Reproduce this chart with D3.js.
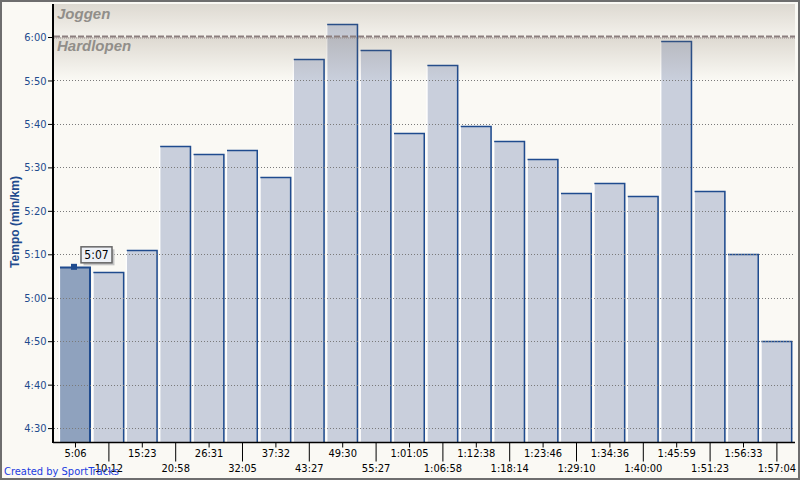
<!DOCTYPE html>
<html><head><meta charset="utf-8">
<script src="https://cdn.jsdelivr.net/npm/d3@7"></script>
<style>html,body{margin:0;padding:0;background:#faf9f4;} svg{display:block;}</style>
</head><body><svg id="c" width="800" height="480"></svg>
<script>
// ---- data ----
const splitLabels = ["5:06","10:12","15:23","20:58","26:31","32:05","37:32","43:27","49:30","55:27","1:01:05","1:06:58","1:12:38","1:18:14","1:23:46","1:29:10","1:34:36","1:40:00","1:45:59","1:51:23","1:56:33","1:57:04"];
const paceSeconds = [307,306,311,335,333,334,327.7,355,363,357,338,353.5,339.5,336,332,324,326.5,323.5,359,324.5,310,290];
const yTickValues = [270,280,290,300,310,320,330,340,350,360];
const zoneNames = ["Joggen","Hardlopen"];
const zoneBoundary = 360;
const selectedIndex = 0;
const tooltipText = "5:07";
const yTitle = "Tempo (min/km)";
const credit = "Created by SportTracks";

// ---- layout ----
const W = 800, H = 480;
const plotL = 54, plotR = 795, plotT = 4, plotB = 442;
const fontUI = "'DejaVu Sans Condensed','DejaVu Sans',sans-serif";
const blue = "#1f4b8e";

const svg = d3.select("#c");
svg.append("rect").attr("width", W).attr("height", H).attr("fill", "#faf9f4");

const x = d3.scaleBand().domain(d3.range(paceSeconds.length)).range([60, 792.4]).paddingInner(0.072).paddingOuter(0);
const y = d3.scaleLinear().domain([266.8, 367.6]).range([plotB, plotT]);
const fmt = s => Math.floor(s / 60) + ":" + String(Math.round(s % 60)).padStart(2, "0");

// defs gradients
const defs = svg.append("defs");
function grad(id, a0, a1) {
  const g = defs.append("linearGradient").attr("id", id).attr("x1", 0).attr("y1", 0).attr("x2", 0).attr("y2", 1);
  g.append("stop").attr("offset", "0%").attr("stop-color", "rgb(120,103,84)").attr("stop-opacity", a0);
  g.append("stop").attr("offset", "100%").attr("stop-color", "rgb(120,103,84)").attr("stop-opacity", a1);
}
grad("gJog", 0.22, 0.05);
grad("gRun", 0.22, 0.0);

// bars
const bars = svg.append("g");
paceSeconds.forEach((v, i) => {
  const x0 = x(i), w = x.bandwidth(), top = Math.round(y(v));
  const sel = i === selectedIndex;
  bars.append("rect").attr("x", x0).attr("y", top).attr("width", w).attr("height", plotB - top)
    .attr("fill", sel ? "#8fa2be" : "#c9cfdc");
  bars.append("line").attr("x1", x0 - 0.5).attr("x2", x0 - 0.5).attr("y1", top + 1).attr("y2", plotB)
    .attr("stroke", "#ffffff").attr("stroke-width", 1.2);
  bars.append("path").attr("d", `M${x0},${top + 0.5}H${x0 + w - (sel ? 1 : 0.75)}V${plotB}`)
    .attr("fill", "none").attr("stroke", blue).attr("stroke-width", sel ? 2 : 1.5);
});

// gridlines
const grid = svg.append("g");
yTickValues.filter(t => t !== zoneBoundary).forEach(t => {
  const yy = Math.round(y(t)) + 0.5;
  grid.append("line").attr("x1", plotL).attr("x2", plotR).attr("y1", yy).attr("y2", yy)
    .attr("stroke", "#7a7a7a").attr("stroke-width", 1).attr("stroke-dasharray", "1,2");
});

// zone bands
const yb = Math.round(y(zoneBoundary));
svg.append("rect").attr("x", plotL).attr("y", plotT).attr("width", plotR - plotL).attr("height", yb - plotT).attr("fill", "url(#gJog)");
svg.append("rect").attr("x", plotL).attr("y", yb).attr("width", plotR - plotL).attr("height", 43).attr("fill", "url(#gRun)");
svg.append("line").attr("x1", plotL).attr("x2", plotR).attr("y1", yb - 0.5).attr("y2", yb - 0.5)
  .attr("stroke", "#8b7e7e").attr("stroke-width", 2).attr("stroke-dasharray", "6,2");
svg.append("line").attr("x1", plotL).attr("x2", plotR).attr("y1", yb + 1).attr("y2", yb + 1)
  .attr("stroke", "#9a8f8f").attr("stroke-width", 1).attr("stroke-dasharray", "1,1");
svg.append("text").attr("x", 57).attr("y", 18.5).text(zoneNames[0])
  .attr("font-family", "'Liberation Sans',Arial,sans-serif").attr("font-size", 15).attr("font-weight", "bold")
  .attr("font-style", "italic").attr("fill", "#918e8a");
svg.append("text").attr("x", 57).attr("y", 51).text(zoneNames[1])
  .attr("font-family", "'Liberation Sans',Arial,sans-serif").attr("font-size", 15).attr("font-weight", "bold")
  .attr("font-style", "italic").attr("fill", "#918e8a");

// y axis
const ya = svg.append("g").attr("transform", `translate(${plotL - 1},0)`)
  .call(d3.axisLeft(y).tickValues(yTickValues).tickFormat(fmt).tickSize(5).tickPadding(1.5).tickSizeOuter(0));
ya.select(".domain").remove();
ya.selectAll(".tick line").attr("stroke", "#000");
ya.selectAll(".tick text").attr("font-family", fontUI).attr("font-size", 11).attr("fill", blue);
svg.append("line").attr("x1", plotL - 1).attr("x2", plotL - 1).attr("y1", plotT).attr("y2", plotB + 1)
  .attr("stroke", "#000").attr("stroke-width", 2);

// x axis
const xa = svg.append("g").attr("transform", `translate(0,${plotB + 0.5})`)
  .call(d3.axisBottom(x).tickFormat(i => splitLabels[i]).tickSizeOuter(0).tickSize(5));
xa.select(".domain").remove();
xa.selectAll(".tick line").attr("stroke", "#000").attr("y2", (d, i) => i % 2 ? 19 : 5);
xa.selectAll(".tick text").attr("font-family", fontUI).attr("font-size", 11).attr("fill", "#000")
  .attr("dy", null).attr("y", (d, i) => i % 2 ? 29 : 14.5);
svg.append("line").attr("x1", plotL - 1).attr("x2", plotR).attr("y1", plotB + 0.5).attr("y2", plotB + 0.5)
  .attr("stroke", "#000").attr("stroke-width", 1.5);

// y title
svg.append("text").attr("transform", `translate(19,222) rotate(-90)`).attr("text-anchor", "middle")
  .text(yTitle).attr("font-family", "'Liberation Sans',Arial,sans-serif").attr("font-size", 12)
  .attr("font-weight", "bold").attr("fill", blue);

// selected marker + tooltip
const cx = x(selectedIndex) + x.bandwidth() / 2 - 1.5;
const ty = y(paceSeconds[selectedIndex]);
svg.append("rect").attr("x", cx - 3).attr("y", ty - 3.5).attr("width", 6).attr("height", 6).attr("fill", blue);
const tb = svg.append("g").attr("transform", `translate(${cx + 6.5},${ty - 21})`);
tb.append("rect").attr("x", 3).attr("y", 3).attr("width", 31).attr("height", 16).attr("fill", "#c4c4c4");
tb.append("rect").attr("x", 0.5).attr("y", 0.5).attr("width", 31).attr("height", 16).attr("fill", "#eef1f6")
  .attr("stroke", "#666").attr("stroke-width", 1.5);
tb.append("text").attr("x", 16).attr("y", 12.5).attr("text-anchor", "middle").text(tooltipText)
  .attr("font-family", fontUI).attr("font-size", 12).attr("fill", "#000");

// credit
svg.append("text").attr("x", 4).attr("y", 475).text(credit)
  .attr("font-family", fontUI).attr("font-size", 11).attr("fill", "#1a3ce0");

// outer border
svg.append("rect").attr("x", 1).attr("y", 1).attr("width", W - 2).attr("height", H - 2)
  .attr("fill", "none").attr("stroke", "#6e6e6e").attr("stroke-width", 2);
</script></body></html>
